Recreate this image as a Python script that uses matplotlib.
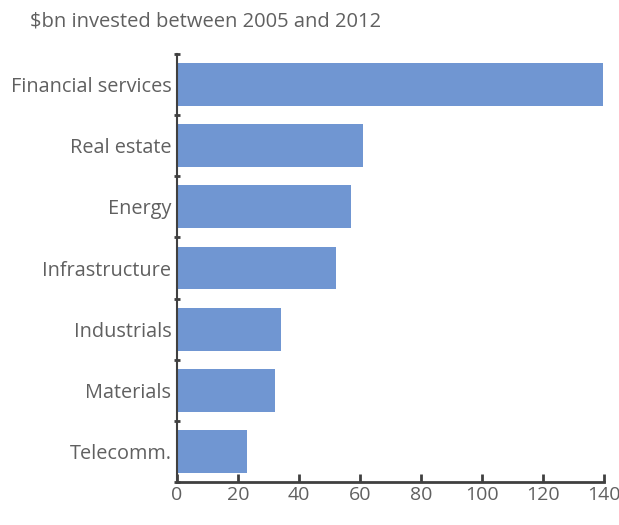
import matplotlib.pyplot as plt
import numpy as np

categories = ['Financial services', 'Real estate', 'Energy', 'Infrastructure',
              'Industrials', 'Materials', 'Telecomm.']
values = [139.5, 61, 57, 52, 34, 32, 23]
x_ticks = [0, 20, 40, 60, 80, 100, 120, 140]

plt.rcParams['font.family'] = ['Open Sans', 'DejaVu Sans']
text_color = '#606060'
axis_color = '#404040'

fig = plt.figure(figsize=(6.19, 5.25), dpi=100)
ax = fig.add_axes([0.286, 0.082, 0.69, 0.815])

# Graph
pos = np.arange(len(categories))
ax.barh(pos, values, height=0.7, color='#7096d2', zorder=2)

ax.set_ylim(len(categories) - 0.5, -0.5)
ax.set_xlim(0, 140)

# y Axis
ax.set_yticks(pos)
ax.set_yticklabels(categories)
ax.set_yticks(np.arange(len(categories) + 1) - 0.5, minor=True)
ax.tick_params(axis='y', which='major', length=0, pad=4, labelsize=14.3, labelcolor=text_color)
ax.tick_params(axis='y', which='minor', length=5, width=2, direction='inout', color=axis_color)

# x Axis
ax.set_xticks(x_ticks)
ax.tick_params(axis='x', direction='in', length=6, width=2, color=axis_color,
               labelsize=14, labelcolor=text_color, pad=3)

for side in ['top', 'right']:
    ax.spines[side].set_visible(False)
for side in ['left', 'bottom']:
    ax.spines[side].set_color(axis_color)
    ax.spines[side].set_linewidth(2)
ax.spines['left'].set_linewidth(1.5)

# Title
fig.text(0.048, 0.96, '$bn invested between 2005 and 2012', fontsize=14.5,
         color=text_color, ha='left', va='center')

fig.savefig('out.png', dpi=100)
